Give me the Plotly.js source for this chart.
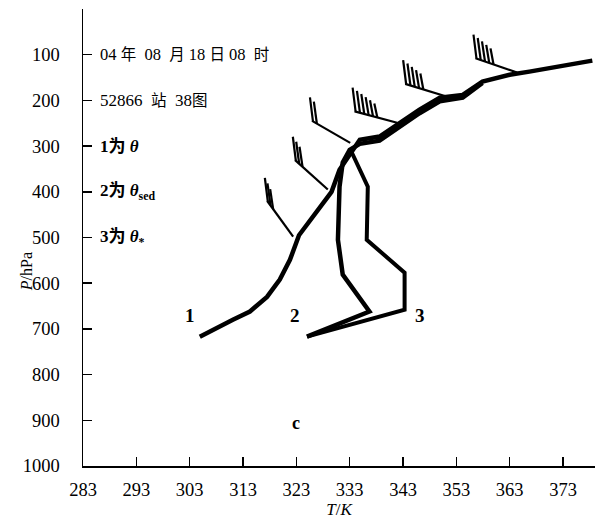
<!DOCTYPE html>
<html>
<head>
<meta charset="utf-8">
<script src="https://cdn.plot.ly/plotly-3.0.1.min.js"></script>
<style>html,body{margin:0;padding:0;background:#fff;}#chart{width:597px;height:519px;}</style>
</head>
<body>
<div id="chart"></div>
<script>
// Curve 1: theta
const theta_T = [304.9,308.1,311.1,314.3,317.5,319.9,321.8,323.5,329.6,331.1,333.4,334.9,338.6,342.4,346.1,349.9,354.2,357.9,363.0,366.7,371.8,378.5];
const theta_P = [717,697,680,662,630,592,549,495,400,352,314,286,279,249,220,194,188,159,144,137,126,113];
// Curve 2: theta_sed
const thetaSed_T = [325.0,336.7,331.7,330.8,331.1,331.7,333.0,334.9,338.6,342.4,346.1,349.9,354.2,357.9];
const thetaSed_P = [717,662,581,505,389,336,308,295,288,258,228,202,194,162];
// Curve 3: theta*
const thetaStar_T = [325.0,343.3,343.3,336.2,336.4,334.3,333.4];
const thetaStar_P = [717,658,577,505,389,336,314];
// Wind barbs: base point, staff direction (deg, counter-clockwise from +T), feather count
const barb_T = [322.4,328.9,333.1,341.9,351.3,364.4];
const barb_P = [498,395,293,249,192,139];
const barb_dir = [126,138,150,165,163,161];
const barb_feathers = [3,3,2,6,5,5];
// Axis ticks
const xTicks = [283,293,303,313,323,333,343,353,363,373];
const yTicks = [100,200,300,400,500,600,700,800,900,1000];

const W = 597, H = 519;
const M = {l:83, r:2, t:9, b:53};
const xRange = [283, 379];
const yRange = [1000, 0];
const pxPerT = (W - M.l - M.r) / (xRange[1] - xRange[0]);
const pxPerP = (H - M.t - M.b) / (yRange[0] - yRange[1]);

// Build barb geometry in data units
const bx = [], by = [];
const staffLen = 44, featherH = 24, featherGap = 4.5, lean = -3;
for (let i = 0; i < barb_T.length; i++) {
  const a = barb_dir[i] * Math.PI / 180;
  const ux = Math.cos(a), uy = Math.sin(a); // pixel, y up
  const ex = barb_T[i] + staffLen * ux / pxPerT;
  const ey = barb_P[i] - staffLen * uy / pxPerP;
  bx.push(barb_T[i], ex, null); by.push(barb_P[i], ey, null);
  for (let k = 0; k < barb_feathers[i]; k++) {
    const d = staffLen - 1 - k * featherGap;
    const sx = barb_T[i] + d * ux / pxPerT;
    const sy = barb_P[i] - d * uy / pxPerP;
    const h = featherH - k * 2;
    bx.push(sx, sx + lean / pxPerT, null);
    by.push(sy, sy - h / pxPerP, null);
  }
}

const serif = 'Liberation Serif, Times New Roman, Noto Sans CJK SC, serif';
const lineStyle = {color:'#000', width:4.5, shape:'linear'};
const traces = [
  {x: theta_T, y: theta_P, mode:'lines', line: lineStyle, hoverinfo:'skip'},
  {x: thetaSed_T, y: thetaSed_P, mode:'lines', line: lineStyle, hoverinfo:'skip'},
  {x: thetaStar_T, y: thetaStar_P, mode:'lines', line: {color:'#000', width:4}, hoverinfo:'skip'},
  {x: bx, y: by, mode:'lines', line: {color:'#000', width:2.2}, connectgaps:false, hoverinfo:'skip'}
];

const txt = (x, y, text, size, extra) => Object.assign({
  x: x, y: y, xref:'x', yref:'y', text: text, showarrow:false,
  font:{family: serif, size: size, color:'#000'}
}, extra || {});
const sp = '&nbsp;';
const cj = s => '<span style="font-size:15.5px">' + s + '</span>';

const layout = {
  width: W, height: H,
  margin: M,
  paper_bgcolor:'#fff', plot_bgcolor:'#fff',
  showlegend:false,
  font:{family: serif, color:'#000'},
  xaxis:{
    range: xRange, tickvals: xTicks, ticktext: xTicks.map(String),
    ticks:'inside', ticklen:9, tickwidth:1.5, tickcolor:'#000',
    showline:true, linecolor:'#000', linewidth:1.5,
    showgrid:false, zeroline:false,
    tickfont:{family: serif, size:18.5, color:'#000'},
    ticklabelstandoff: 6,
    title:{text:'<i>T</i>/<i>K</i>', font:{family: serif, size:17, color:'#000'}, standoff: 0}
  },
  yaxis:{
    range: yRange, tickvals: yTicks, ticktext: yTicks.map(String),
    ticks:'inside', ticklen:9, tickwidth:1.5, tickcolor:'#000',
    showline:true, linecolor:'#000', linewidth:1.5,
    showgrid:false, zeroline:false,
    tickfont:{family: serif, size:18.5, color:'#000'},
    ticklabelstandoff: 18
  },
  annotations:[
    {xref:'paper', yref:'paper', x:-0.131, y:0.425, text:'<i>P</i>/hPa', textangle:-90, showarrow:false,
     font:{family: serif, size:16, color:'#000'}},
    txt(285.8, 100, '04' + sp + cj('年') + sp + sp + '08' + sp + sp + cj('月') + sp + '18' + sp + cj('日') + sp + '08' + sp + sp + cj('时'), 16.5, {xanchor:'left'}),
    txt(285.8, 200, '52866' + sp + sp + cj('站') + sp + sp + '38' + cj('图'), 17, {xanchor:'left'}),
    txt(285.8, 300, '<b>1为' + sp + '<i>θ</i></b>', 17, {xanchor:'left'}),
    txt(285.8, 400, '<b>2为' + sp + '<i>θ</i><sub>sed</sub></b>', 17, {xanchor:'left'}),
    txt(285.8, 500, '<b>3为' + sp + '<i>θ</i><sub>*</sub></b>', 17, {xanchor:'left'}),
    txt(303.0, 670, '<b>1</b>', 19),
    txt(322.7, 670, '<b>2</b>', 19),
    txt(346.1, 670, '<b>3</b>', 19),
    txt(323.0, 905, '<b>c</b>', 18)
  ]
};

Plotly.newPlot('chart', traces, layout, {staticPlot:true, displayModeBar:false});
</script>
</body>
</html>
